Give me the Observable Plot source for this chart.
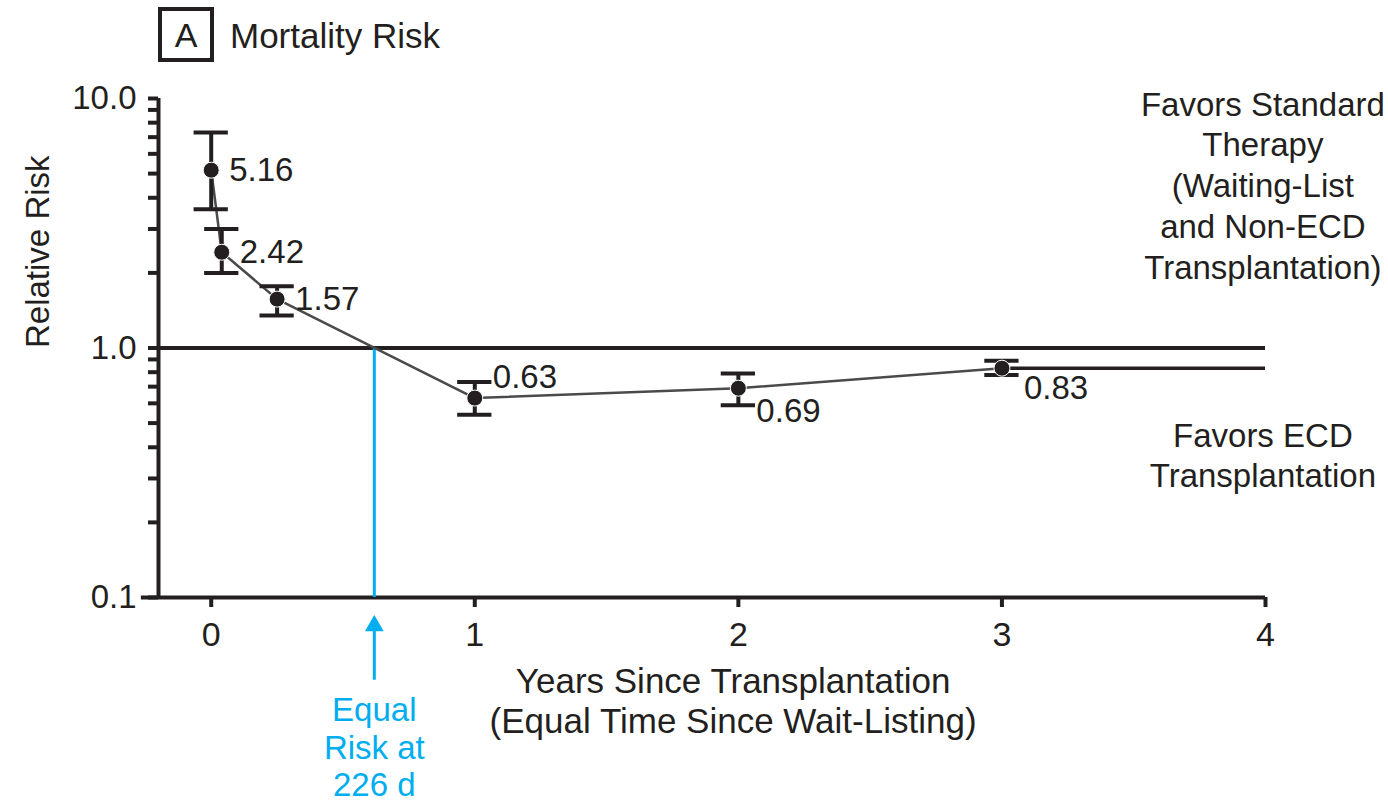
<!DOCTYPE html>
<html>
<head>
<meta charset="utf-8">
<script src="https://cdn.jsdelivr.net/npm/d3@7"></script>
<script src="https://cdn.jsdelivr.net/npm/@observablehq/plot@0.6"></script>
<style>
  body { margin: 0; background: #fff; font-family: "Liberation Sans", Arial, sans-serif; color: #231f20; }
  #title { height: 70px; position: relative; }
  #box { position: absolute; left: 158px; top: 7px; width: 48px; height: 47px; border: 4px solid #231f20; font-size: 34px; line-height: 49px; text-align: center; }
  #ttl { position: absolute; left: 230px; top: 11px; font-size: 35px; line-height: 50px; }
  #chart svg { overflow: visible; }
</style>
</head>
<body>
<div id="title"><span id="box">A</span><span id="ttl">Mortality Risk</span></div>
<div id="chart"></div>
<script>
// ---- data ----
const years      = [0, 0.04, 0.25, 1, 2, 3];
const relRisk    = [5.16, 2.42, 1.57, 0.63, 0.69, 0.83];
const ciLow      = [3.6, 2.0, 1.35, 0.54, 0.59, 0.78];
const ciHigh     = [7.3, 3.0, 1.77, 0.73, 0.79, 0.89];
const valueLabels = ["5.16", "2.42", "1.57", "0.63", "0.69", "0.83"];

const xTicks = [0, 1, 2, 3, 4];
const yTicks = [0.1, 1, 10];
const yTickLabels = ["0.1", "1.0", "10.0"];
const yMinorTicks = [0.2, 0.3, 0.4, 0.5, 0.6, 0.7, 0.8, 0.9, 2, 3, 4, 5, 6, 7, 8, 9];

const equalRiskDays = 226;
const equalRiskYears = equalRiskDays / 365.25;
const referenceRisk = 1.0;
const lastRisk = 0.83;

const xLabelLines = "Years Since Transplantation\n(Equal Time Since Wait-Listing)";
const yLabel = "Relative Risk";
const upperNote = "Favors Standard\nTherapy\n(Waiting-List\nand Non-ECD\nTransplantation)";
const lowerNote = "Favors ECD\nTransplantation";
const equalNote = "Equal\nRisk at\n" + equalRiskDays + " d";

// ---- build table ----
const rows = years.map((x, i) => ({x, y: relRisk[i], lo: ciLow[i], hi: ciHigh[i], label: valueLabels[i], i}));

const INK = "#231f20";
const BLUE = "#00aeef";
const FONT = "\"Liberation Sans\", Arial, sans-serif";
const capHalf = 0.065;
const xMin = -0.2, xMax = 4, xAxisStart = -0.265;

const chart = Plot.plot({
  width: 1388,
  height: 734,
  marginTop: 28,
  marginBottom: 207,
  marginLeft: 158,
  marginRight: 123,
  style: {fontFamily: FONT, color: INK, background: "#fff"},
  x: {domain: [xMin, xMax]},
  y: {type: "log", domain: [0.1, 10]},
  marks: [
    // axes
    Plot.axisX({ticks: xTicks, tickSize: 10, tickPadding: 14, fontSize: 34, strokeWidth: 4, stroke: INK, label: null, tickFormat: d => String(d)}),
    Plot.axisY({ticks: yTicks, tickSize: 10, tickPadding: 12, fontSize: 33, strokeWidth: 4, stroke: INK, label: null, tickFormat: d => yTickLabels[yTicks.indexOf(d)]}),
    Plot.axisY({ticks: yMinorTicks, tickSize: 10, strokeWidth: 4, stroke: INK, label: null, tickFormat: () => ""}),
    Plot.ruleX([xMin], {y1: 0.1, y2: 10, stroke: INK, strokeWidth: 4}),
    Plot.ruleY([0.1], {x1: xAxisStart, x2: xMax, stroke: INK, strokeWidth: 4}),
    // reference lines
    Plot.ruleY([referenceRisk], {x1: xMin, x2: xMax, stroke: INK, strokeWidth: 4}),
    Plot.ruleY([lastRisk], {x1: years[years.length - 1], x2: xMax, stroke: INK, strokeWidth: 3.5}),
    // equal-risk marker
    Plot.ruleX([equalRiskYears], {y1: 0.1, y2: referenceRisk, stroke: BLUE, strokeWidth: 3}),
    Plot.ruleX([equalRiskYears], {y1: 0.0466, y2: 0.076, stroke: BLUE, strokeWidth: 3}),
    Plot.dot([equalRiskYears], {x: d => d, y: () => 0.077, symbol: "triangle", r: 6, fill: BLUE, stroke: BLUE}),
    Plot.text([equalNote], {x: equalRiskYears, y: () => 0.1, text: d => d, fill: BLUE, fontSize: 33, lineAnchor: "top", lineHeight: 1.14, dy: 97}),
    // connecting line
    Plot.line(rows, {x: "x", y: "y", stroke: "#4a4a4a", strokeWidth: 2.5}),
    // error bars
    Plot.ruleX(rows, {x: "x", y1: "lo", y2: "hi", stroke: INK, strokeWidth: 4}),
    Plot.ruleY(rows, {y: "lo", x1: d => d.x - capHalf, x2: d => d.x + capHalf, stroke: INK, strokeWidth: 4}),
    Plot.ruleY(rows, {y: "hi", x1: d => d.x - capHalf, x2: d => d.x + capHalf, stroke: INK, strokeWidth: 4}),
    // points
    Plot.dot(rows, {x: "x", y: "y", r: 8, fill: INK, stroke: "#fff", strokeWidth: 1}),
    // value labels
    Plot.text(rows.filter(d => d.i < 3), {x: "x", y: "y", text: "label", textAnchor: "start", dx: 18, fontSize: 33, fill: INK}),
    Plot.text(rows.filter(d => d.i === 3), {x: "x", y: "y", text: "label", textAnchor: "start", dx: 18, dy: -21, fontSize: 33, fill: INK}),
    Plot.text(rows.filter(d => d.i === 4), {x: "x", y: "y", text: "label", textAnchor: "start", dx: 18, dy: 23, fontSize: 33, fill: INK}),
    Plot.text(rows.filter(d => d.i === 5), {x: "x", y: "y", text: "label", textAnchor: "start", dx: 22, dy: 20, fontSize: 33, fill: INK}),
    // axis titles
    Plot.text([xLabelLines], {x: 1.98, y: () => 0.1, text: d => d, fontSize: 35, lineAnchor: "top", lineHeight: 1.12, dy: 68, fill: INK}),
    Plot.text([yLabel], {frameAnchor: "left", text: d => d, rotate: -90, dx: -120, fontSize: 33, fill: INK}),
    // side notes
    Plot.text([upperNote], {x: 3.99, frameAnchor: "top", text: d => d, fontSize: 33, lineAnchor: "top", lineHeight: 1.24, dy: -12, fill: INK}),
    Plot.text([lowerNote], {x: 3.99, frameAnchor: "top", text: d => d, fontSize: 33, lineAnchor: "top", lineHeight: 1.22, dy: 320, fill: INK})
  ]
});
document.getElementById("chart").appendChild(chart);
</script>
</body>
</html>
